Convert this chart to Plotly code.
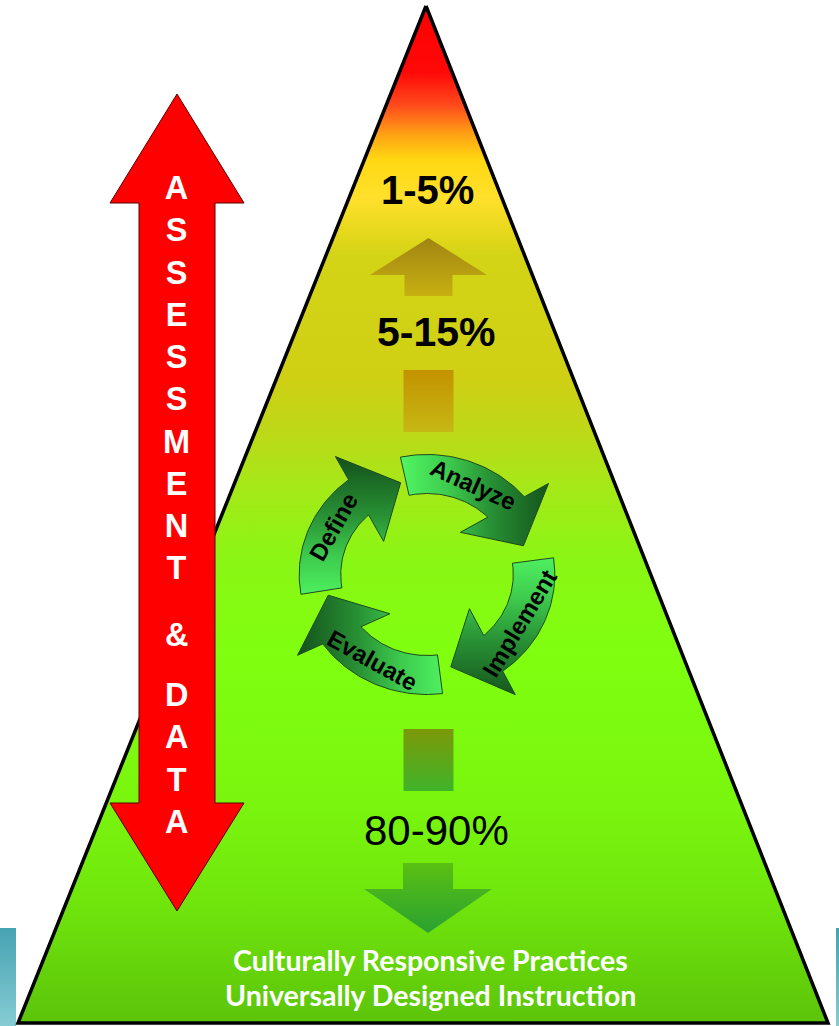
import numpy as np
import plotly.graph_objects as go

# ---------------- content ----------------
tier_labels = ["1-5%", "5-15%", "80-90%"]
cycle_steps = ["Define", "Analyze", "Implement", "Evaluate"]
side_words = ["ASSESSMENT", "&", "DATA"]
foundation_lines = ["Culturally Responsive Practices", "Universally Designed Instruction"]

W, H = 839, 1026
FONT = "Arial, 'Liberation Sans', sans-serif"
fig = go.Figure()


def add_poly(xs, ys, fillcolor=None, grad=None, line_color="rgba(0,0,0,0)", line_width=0):
    xs = list(xs) + [xs[0]]
    ys = list(ys) + [ys[0]]
    tr = dict(x=xs, y=ys, mode="lines", fill="toself", hoverinfo="skip", showlegend=False,
              line=dict(color=line_color, width=line_width))
    if grad is not None:
        tr["fillgradient"] = grad
    else:
        tr["fillcolor"] = fillcolor
    fig.add_trace(go.Scatter(**tr))


def grad(kind, start, stop, stops):
    return dict(type=kind, start=start, stop=stop, colorscale=[[p, c] for p, c in stops])


def pos_grad(kind, stops):
    a, b = stops[0][0], stops[-1][0]
    return grad(kind, a, b, [((v - a) / (b - a), c) for v, c in stops])


# ---------------- side teal strips ----------------
add_poly([0, 16, 16, 0], [928, 928, 1026, 1026],
         grad=grad("vertical", 928, 1026, [(0, "#46a2b2"), (1, "#86ccd4")]))
add_poly([836, 839, 839, 836], [928, 928, 1026, 1026],
         grad=grad("vertical", 928, 1026, [(0, "#46a2b2"), (1, "#86ccd4")]))

# ---------------- pyramid ----------------
APEX = (426, 6)
BASE_Y = 1023
BASE_L, BASE_R = 18, 828
pyr_stops = [(6, '#ff0000'), (72, '#ff0808'), (105, '#ff4a1c'), (135, '#ffa314'), (160, '#ffd812'),
             (198, '#ffe02c'), (232, '#e6d81c'), (255, '#d4d416'), (380, '#cfd014'), (430, '#bed818'),
             (485, '#a6e818'), (560, '#8af614'), (650, '#80ff10'), (800, '#7af60e'), (900, '#70e60c'),
             (1023, '#5cc40a')]
add_poly([APEX[0], BASE_R, BASE_L], [APEX[1], BASE_Y, BASE_Y],
         grad=pos_grad("vertical", pyr_stops), line_color="#000000", line_width=3.5)


# ---------------- inner tier arrows ----------------
def vert_arrow(cx, tip_y, head_y, end_y, head_half, shaft_half):
    xs = [cx, cx + head_half, cx + shaft_half, cx + shaft_half, cx - shaft_half, cx - shaft_half, cx - head_half]
    ys = [tip_y, head_y, head_y, end_y, end_y, head_y, head_y]
    return xs, ys


CXA = 428.5
xs, ys = vert_arrow(CXA, 238, 275, 296, 58.5, 24)
add_poly(xs, ys, grad=grad("vertical", 238, 296, [(0, "#a08412"), (1, "#c8b012")]))
add_poly([CXA - 25, CXA + 25, CXA + 25, CXA - 25], [370, 370, 432, 432],
         grad=grad("vertical", 370, 432, [(0, "#c49200"), (1, "#c6b814")]))
add_poly([CXA - 25, CXA + 25, CXA + 25, CXA - 25], [729, 729, 791, 791],
         grad=grad("vertical", 729, 791, [(0, "#7c9808"), (1, "#40b42a")]))
xs, ys = vert_arrow(CXA - 0.5, 933, 889, 863, 64, 25)
add_poly(xs, ys, grad=grad("vertical", 863, 933, [(0, "#5ac012"), (1, "#2aa232")]))

# ---------------- cycle arrows ----------------
CX, CY, SX = 427, 574.5, 1.065
R_IN, R_OUT = 81, 120
tails = [189.5, 102, 8, -83]


def polar(r, deg):
    a = np.radians(deg)
    return CX + SX * r * np.cos(a), CY - r * np.sin(a)


def circle_hit(A, B, r):
    ax, ay = (A[0] - CX) / SX, A[1] - CY
    bx, by = (B[0] - CX) / SX, B[1] - CY
    dx, dy = bx - ax, by - ay
    a = dx * dx + dy * dy
    b = 2 * (ax * dx + ay * dy)
    c = ax * ax + ay * ay - r * r
    disc = np.sqrt(max(b * b - 4 * a * c, 0))
    ts = sorted([(-b - disc) / (2 * a), (-b + disc) / (2 * a)])
    ok = [t for t in ts if 0 <= t <= 1]
    t = ok[0] if ok else ts[0]
    return A[0] + t * (B[0] - A[0]), A[1] + t * (B[1] - A[1])


def ang_from(P, th0):
    a = np.degrees(np.arctan2(-(P[1] - CY), (P[0] - CX) / SX))
    return th0 - ((th0 - a) % 360)


cyc_grads = [
    ("vertical", 600, 458),
    ("horizontal", 403, 550),
    ("vertical", 553, 700),
    ("horizontal", 447, 298),
]
cyc_cs = [(0, "#50f462"), (0.3, "#3ecc4e"), (0.6, "#289034"), (1, "#14521c")]

for k, th0 in enumerate(tails):
    Pout = polar(146, th0 - 63.4)
    Pin = polar(52.5, th0 - 48.6)
    tip = polar(95, th0 - 84.4)
    Cout = circle_hit(Pout, Pin, R_OUT)
    Cin = circle_hit(Pout, Pin, R_IN)
    aout = ang_from(Cout, th0)
    ain = ang_from(Cin, th0)
    px, py = [], []
    for a in np.linspace(th0, aout, 40):
        p = polar(R_OUT, a); px.append(p[0]); py.append(p[1])
    for p in [Pout, tip, Pin, Cin]:
        px.append(p[0]); py.append(p[1])
    for a in np.linspace(ain, th0, 40):
        p = polar(R_IN, a); px.append(p[0]); py.append(p[1])
    kind, s0, s1 = cyc_grads[k]
    add_poly(px, py, grad=grad(kind, s0, s1, cyc_cs), line_color="#1e4a1e", line_width=1)

# ---------------- red double arrow ----------------
RX = 177
rx = [RX, RX + 67, RX + 38, RX + 38, RX + 67, RX, RX - 67, RX - 38, RX - 38, RX - 67]
ry = [94, 203, 203, 803, 803, 911, 803, 803, 203, 203]
add_poly(rx, ry, fillcolor="#ff0000", line_color="#5a0000", line_width=1)

# ---------------- annotations ----------------
ann = []


def add_text(x, y, text, size, color="#000", weight="normal", family=FONT, angle=0):
    ann.append(dict(x=x, y=y, xref="x", yref="y", text=text, showarrow=False,
                    xanchor="center", yanchor="middle", textangle=angle,
                    font=dict(family=family, size=size, color=color, weight=weight)))


# tier labels
add_text(427.5, 190, tier_labels[0], 40, weight="bold")
add_text(436.5, 332, tier_labels[1], 41, weight="bold")
add_text(436.5, 830, tier_labels[2], 42, weight="normal")

# vertical side label
LS = 32.5
add_text(176, 378, "<br>".join(list(side_words[0])), LS, color="white", weight="bold")
add_text(176, 635, side_words[1], LS, color="white", weight="bold")
add_text(176, 758, "<br>".join(list(side_words[2])), LS, color="white", weight="bold")

# cycle words
for k, th0 in enumerate(tails):
    thc = th0 - 37.6
    x, y = polar(100, thc)
    t = np.radians(thc)
    rot = np.degrees(np.arctan2(np.cos(t), SX * np.sin(t)))
    while rot > 90:
        rot -= 180
    while rot <= -90:
        rot += 180
    add_text(x, y, cycle_steps[k], 24, weight="bold", angle=float(rot))

# foundation
add_text(430, 960, foundation_lines[0], 28.5, color="white", weight="bold", family="Lato, 'Open Sans', sans-serif")
add_text(430, 995, foundation_lines[1], 28.5, color="white", weight="bold", family="Lato, 'Open Sans', sans-serif")

fig.update_layout(
    width=W, height=H, margin=dict(l=0, r=0, t=0, b=0),
    paper_bgcolor="white", plot_bgcolor="white",
    xaxis=dict(range=[0, W], visible=False, fixedrange=True),
    yaxis=dict(range=[H, 0], visible=False, fixedrange=True),
    showlegend=False, annotations=ann, hovermode=False,
)

fig.write_html("out.html", config={"displayModeBar": False},
               post_script="document.body.style.margin='0';document.body.style.overflow='hidden';")
